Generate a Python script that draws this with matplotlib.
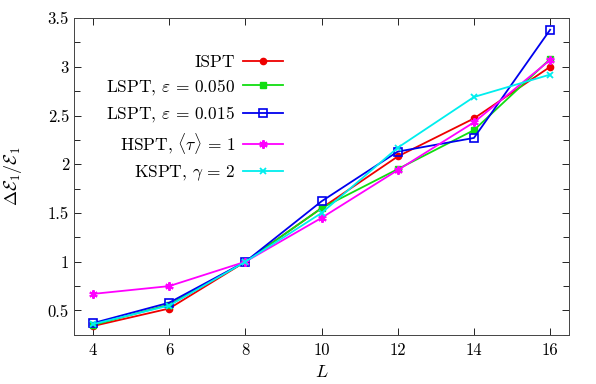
import matplotlib
matplotlib.use("Agg")
import matplotlib.pyplot as plt
from matplotlib.ticker import MultipleLocator, FuncFormatter

plt.rcParams['font.family'] = 'serif'
plt.rcParams['font.serif'] = ['cmr10', 'DejaVu Serif']
plt.rcParams['mathtext.fontset'] = 'cm'
plt.rcParams['axes.unicode_minus'] = False

# data
L = [4, 6, 8, 10, 12, 14, 16]
ispt = [0.34, 0.52, 1.0, 1.55, 2.08, 2.47, 3.00]
lspt_050 = [0.35, 0.56, 1.0, 1.55, 1.95, 2.35, 3.08]
lspt_015 = [0.37, 0.58, 1.0, 1.62, 2.13, 2.27, 3.38]
hspt = [0.67, 0.75, 1.0, 1.45, 1.94, 2.43, 3.07]
kspt = [0.36, 0.55, 1.0, 1.50, 2.17, 2.69, 2.92]

labels = ['ISPT',
          r'LSPT, $\varepsilon\,=\,0.050$',
          r'LSPT, $\varepsilon\,=\,0.015$',
          r'HSPT, $\langle\tau\rangle\,=\,1$',
          r'KSPT, $\gamma\,=\,2$']

fig = plt.figure(figsize=(5.96, 3.84), dpi=100)
ax = fig.add_axes([0.124, 0.128, 0.831, 0.825])

ax.plot(L, ispt, color='#ee0000', marker='o', ms=4.5, lw=1.3, label=labels[0])
ax.plot(L, lspt_050, color='#11dd11', marker='s', ms=4.5, lw=1.3, label=labels[1])
ax.plot(L, lspt_015, color='#0000ee', marker='s', ms=5.5, mfc='none', mew=1.2, lw=1.3, label=labels[2])
ax.plot(L, hspt, color='#ff00ff', marker=(6, 2, 0), ms=6, mew=1.5, lw=1.3, label=labels[3])
ax.plot(L, kspt, color='#00eeee', marker='x', ms=5, mew=1.3, lw=1.3, label=labels[4])

ax.set_xlim(3.5, 16.5)
ax.set_ylim(0.25, 3.5)
ax.xaxis.set_major_locator(MultipleLocator(2))
ax.yaxis.set_major_locator(MultipleLocator(0.5))
ax.yaxis.set_minor_locator(MultipleLocator(0.25))
ax.yaxis.set_major_formatter(FuncFormatter(lambda v, p: f'{v:g}'))
ax.tick_params(which='both', direction='in', top=True, right=True, labelsize=12)
ax.tick_params(which='major', length=5, width=0.6)
ax.tick_params(which='minor', length=4, width=0.6)
ax.tick_params(axis='x', pad=6)
for s in ax.spines.values():
    s.set_linewidth(0.7)
    s.set_color('#444444')

ax.set_xlabel(r'$L$', fontsize=13, labelpad=4)
ax.set_ylabel(r'$\Delta\mathcal{E}_1/\mathcal{E}_1$', fontsize=13, labelpad=17)

# gnuplot-style key: text right aligned, sample on the right
leg = ax.legend(loc='upper right', bbox_to_anchor=(0.422, 0.885), markerfirst=False,
                frameon=False, fontsize=12.5, handlelength=2.3, labelspacing=0.42,
                handletextpad=0.45, borderpad=0, borderaxespad=0)
for col in leg._legend_handle_box.get_children():
    col.align = 'right'

fig.savefig('out.png', dpi=100)
